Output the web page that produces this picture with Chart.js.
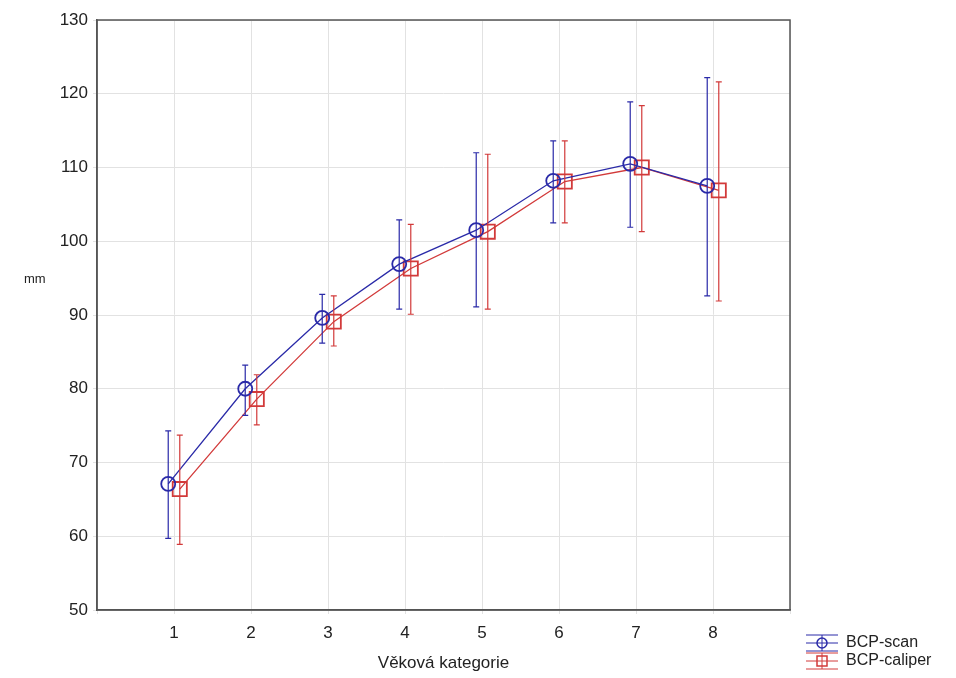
<!DOCTYPE html>
<html>
<head>
<meta charset="utf-8">
<script src="https://cdn.jsdelivr.net/npm/chart.js@4.4.1/dist/chart.umd.min.js"></script>
<style>
  html, body { margin: 0; padding: 0; background: #fff; }
  #chart { display: block; }
</style>
</head>
<body>
<canvas id="chart" width="956" height="678"></canvas>
<script>
// data
const categories = [1, 2, 3, 4, 5, 6, 7, 8];
const scanMean = [67.1, 80.0, 89.6, 96.9, 101.5, 108.2, 110.5, 107.5];
const scanLow  = [59.7, 76.4, 86.2, 90.8, 91.1, 102.5, 101.9, 92.6];
const scanHigh = [74.3, 83.2, 92.8, 102.9, 112.0, 113.6, 118.9, 122.2];
const caliperMean = [66.4, 78.6, 89.1, 96.3, 101.3, 108.1, 110.0, 106.9];
const caliperLow  = [58.9, 75.1, 85.8, 90.1, 90.8, 102.5, 101.3, 91.9];
const caliperHigh = [73.7, 81.9, 92.6, 102.3, 111.8, 113.6, 118.4, 121.6];
const yTicks = [50, 60, 70, 80, 90, 100, 110, 120, 130];

const FONT = '"Liberation Sans", Arial, sans-serif';
const BLUE = '#2a2aa8', RED = '#d23a3a';
const SHIFT = 0.075; // small horizontal dodge between the two series

const pts = (means, lo, hi, dx) => categories.map((c, i) => ({ x: c + dx, y: means[i], lo: lo[i], hi: hi[i] }));

const errorBars = {
  id: 'errorBars',
  afterDatasetsDraw(chart) {
    const { ctx, scales: { x, y } } = chart;
    chart.data.datasets.forEach(ds => {
      ctx.save(); ctx.strokeStyle = ds.borderColor; ctx.lineWidth = 1.2;
      ds.data.forEach(p => {
        const px = x.getPixelForValue(p.x), yl = y.getPixelForValue(p.lo), yh = y.getPixelForValue(p.hi);
        ctx.beginPath();
        ctx.moveTo(px, yl); ctx.lineTo(px, yh);
        ctx.moveTo(px - 3, yl); ctx.lineTo(px + 3, yl);
        ctx.moveTo(px - 3, yh); ctx.lineTo(px + 3, yh);
        ctx.stroke();
      });
      ctx.restore();
    });
  }
};

const frame = {
  id: 'frame',
  afterDraw(chart) {
    const { ctx, chartArea: a } = chart;
    ctx.save();
    ctx.strokeStyle = '#555'; ctx.lineWidth = 1.5;
    ctx.strokeRect(a.left, a.top, a.right - a.left, a.bottom - a.top);
    // y label, horizontal
    ctx.fillStyle = '#222'; ctx.font = '13px ' + FONT; ctx.textBaseline = 'middle';
    ctx.fillText('mm', 24, 279);
    // legend
    chart.data.datasets.forEach((ds, i) => {
      const cy = 643 + i * 18, cx = 822;
      ctx.strokeStyle = ds.borderColor; ctx.lineWidth = 1;
      ctx.beginPath();
      ctx.moveTo(806, cy); ctx.lineTo(838, cy);
      ctx.moveTo(806, cy - 8); ctx.lineTo(838, cy - 8);
      ctx.moveTo(806, cy + 8); ctx.lineTo(838, cy + 8);
      ctx.moveTo(cx, cy - 8); ctx.lineTo(cx, cy + 8);
      ctx.stroke();
      ctx.lineWidth = 1.5;
      ctx.beginPath();
      if (ds.pointStyle === 'circle') ctx.arc(cx, cy, 5, 0, Math.PI * 2);
      else ctx.rect(cx - 5, cy - 5, 10, 10);
      ctx.stroke();
      ctx.fillStyle = '#222'; ctx.font = '16px ' + FONT; ctx.textBaseline = 'middle';
      ctx.fillText(ds.label, 846, cy);
    });
    ctx.restore();
  }
};

new Chart(document.getElementById('chart'), {
  type: 'scatter',
  data: {
    datasets: [
      { label: 'BCP-scan', data: pts(scanMean, scanLow, scanHigh, -SHIFT), showLine: true,
        borderColor: BLUE, borderWidth: 1.3, pointStyle: 'circle', pointRadius: 7,
        pointBorderWidth: 1.8, pointBackgroundColor: 'rgba(255,255,255,0)' },
      { label: 'BCP-caliper', data: pts(caliperMean, caliperLow, caliperHigh, SHIFT), showLine: true,
        borderColor: RED, borderWidth: 1.3, pointStyle: 'rect', pointRadius: 10,
        pointBorderWidth: 1.8, pointBackgroundColor: 'rgba(255,255,255,0)' }
    ]
  },
  options: {
    responsive: false, animation: false,
    layout: { padding: { top: 20, right: 166, left: 0, bottom: 0 } },
    plugins: { legend: { display: false }, tooltip: { enabled: false } },
    scales: {
      x: {
        type: 'linear', min: 0, max: 9,
        afterFit: s => { s.height = 68; },
        afterBuildTicks: s => { s.ticks = [0, ...categories, 9].map(v => ({ value: v })); },
        ticks: { color: '#222', font: { family: FONT, size: 17 }, padding: 9,
          callback: v => categories.includes(v) ? String(v) : '' },
        grid: { color: '#e2e2e2', tickLength: 4 },
        border: { color: '#555', width: 1.5 },
        title: { display: true, text: 'Věková kategorie', color: '#222', font: { family: FONT, size: 17 }, padding: { top: 2 } }
      },
      y: {
        min: 50, max: 130,
        afterFit: s => { s.width = 97; },
        afterBuildTicks: s => { s.ticks = yTicks.map(v => ({ value: v })); },
        ticks: { color: '#222', font: { family: FONT, size: 17 }, padding: 5 },
        grid: { color: '#e2e2e2', tickLength: 4 },
        border: { color: '#555', width: 1.5 }
      }
    }
  },
  plugins: [errorBars, frame]
});
</script>
</body>
</html>
